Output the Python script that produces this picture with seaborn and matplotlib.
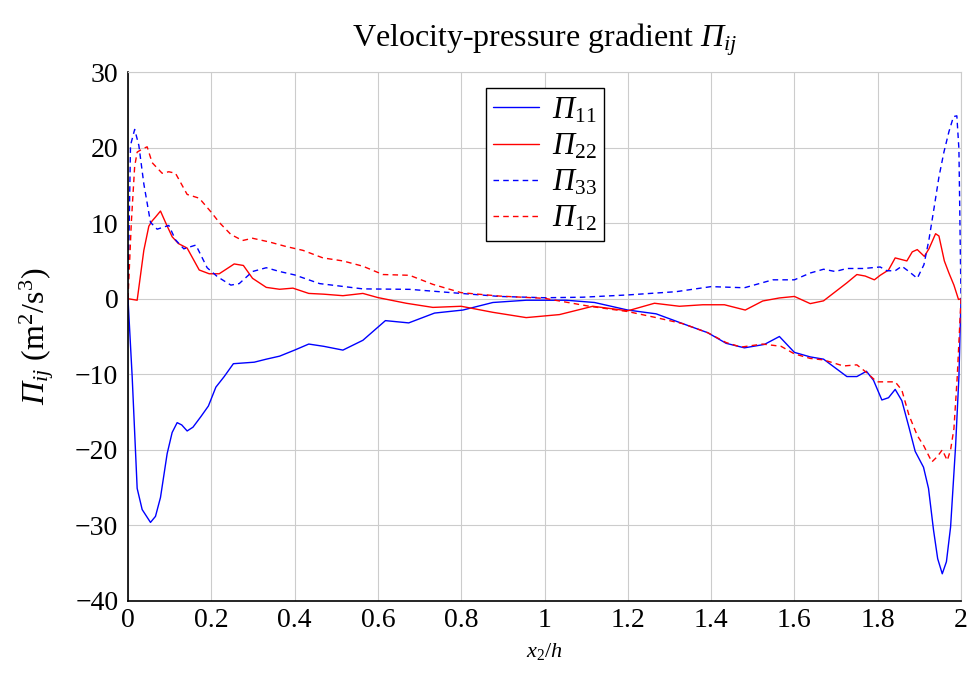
import numpy as np
import pandas as pd
import matplotlib
matplotlib.use("Agg")
import matplotlib.pyplot as plt
import seaborn as sns

# ---- data ----
x11 = [0.0, 0.01, 0.022, 0.034, 0.054, 0.066, 0.078, 0.094, 0.106, 0.118, 0.129, 0.142, 0.156,
       0.175, 0.193, 0.211, 0.231, 0.253, 0.303, 0.332, 0.364, 0.4, 0.434, 0.47, 0.516, 0.564,
       0.618, 0.674, 0.736, 0.804, 0.876, 0.956, 1.052, 1.12, 1.2, 1.268, 1.332, 1.392, 1.436,
       1.48, 1.528, 1.564, 1.6, 1.638, 1.67, 1.726, 1.75, 1.773, 1.79, 1.81, 1.826, 1.842, 1.858,
       1.875, 1.89, 1.91, 1.922, 1.934, 1.944, 1.955, 1.965, 1.975, 1.987, 1.995, 2.0]
p11 = [0.0, -10.3, -25.1, -27.9, -29.6, -28.8, -26.3, -20.5, -17.7, -16.4, -16.7, -17.5, -17.0,
       -15.6, -14.2, -11.7, -10.3, -8.6, -8.4, -8.0, -7.6, -6.8, -6.0, -6.3, -6.8, -5.5,
       -2.9, -3.2, -1.9, -1.5, -0.5, -0.2, -0.2, -0.5, -1.5, -2.0, -3.3, -4.5, -5.9,
       -6.5, -6.05, -5.0, -7.1, -7.7, -8.0, -10.3, -10.3, -9.6, -10.8, -13.4, -13.1, -12.0, -13.5,
       -17.0, -20.2, -22.3, -25.1, -30.6, -34.4, -36.4, -34.8, -30.2, -19.5, -10.3, 0.0]

x22 = [0.0, 0.022, 0.038, 0.05, 0.058, 0.066, 0.078, 0.09, 0.106, 0.121, 0.142, 0.171, 0.195,
       0.219, 0.255, 0.277, 0.299, 0.332, 0.364, 0.396, 0.434, 0.47, 0.516, 0.564, 0.6, 0.668,
       0.732, 0.8, 0.876, 0.956, 1.036, 1.116, 1.2, 1.264, 1.324, 1.38, 1.432, 1.482, 1.524,
       1.564, 1.6, 1.638, 1.67, 1.726, 1.75, 1.77, 1.792, 1.806, 1.826, 1.842, 1.87, 1.883,
       1.895, 1.912, 1.923, 1.939, 1.947, 1.96, 1.971, 1.983, 1.994, 2.0]
p22 = [0.0, -0.2, 6.4, 9.6, 10.3, 10.8, 11.6, 10.1, 8.2, 7.3, 6.7, 3.8, 3.3,
       3.3, 4.6, 4.4, 2.7, 1.5, 1.25, 1.4, 0.7, 0.6, 0.4, 0.7, 0.15, -0.6,
       -1.15, -1.0, -1.8, -2.5, -2.1, -1.0, -1.6, -0.6, -1.0, -0.8, -0.8, -1.5, -0.3,
       0.1, 0.3, -0.65, -0.28, 2.1, 3.2, 3.0, 2.5, 3.1, 3.8, 5.4, 5.0, 6.2,
       6.5, 5.6, 6.6, 8.6, 8.3, 5.0, 3.4, 1.8, -0.1, 0.0]

x33 = [0.0, 0.006, 0.016, 0.026, 0.038, 0.054, 0.07, 0.098, 0.114, 0.134, 0.163, 0.19, 0.215,
       0.247, 0.267, 0.299, 0.332, 0.364, 0.4, 0.46, 0.564, 0.676, 0.8, 0.892, 1.0, 1.092,
       1.2, 1.316, 1.4, 1.48, 1.548, 1.6, 1.638, 1.67, 1.698, 1.726, 1.766, 1.806, 1.822,
       1.842, 1.858, 1.875, 1.895, 1.911, 1.923, 1.935, 1.947, 1.959, 1.971, 1.982, 1.99,
       1.995, 2.0]
p33 = [0.0, 20.3, 22.4, 20.3, 15.2, 10.1, 9.2, 9.7, 7.8, 6.6, 7.1, 4.1, 2.9,
       1.8, 2.0, 3.6, 4.1, 3.6, 3.15, 2.0, 1.3, 1.24, 0.7, 0.3, 0.13, 0.2,
       0.5, 0.93, 1.6, 1.45, 2.5, 2.5, 3.4, 3.9, 3.6, 4.0, 4.0, 4.2, 3.7,
       3.7, 4.3, 3.6, 2.7, 4.5, 7.8, 11.9, 16.1, 19.4, 22.1, 24.1, 24.2,
       19.8, 0.0]

x12 = [0.0, 0.008, 0.016, 0.022, 0.034, 0.046, 0.058, 0.082, 0.098, 0.114, 0.142, 0.171, 0.199,
       0.219, 0.247, 0.275, 0.299, 0.34, 0.38, 0.42, 0.468, 0.516, 0.564, 0.612, 0.676, 0.732,
       0.8, 0.892, 1.0, 1.108, 1.2, 1.268, 1.332, 1.392, 1.436, 1.472, 1.524, 1.568, 1.6,
       1.638, 1.67, 1.718, 1.75, 1.774, 1.798, 1.842, 1.858, 1.875, 1.895, 1.911, 1.93, 1.943,
       1.955, 1.967, 1.975, 1.983, 1.991, 2.0]
p12 = [0.0, 10.1, 17.5, 19.4, 19.8, 20.1, 18.0, 16.6, 16.8, 16.6, 13.8, 13.3, 11.5,
       10.1, 8.5, 7.7, 8.0, 7.5, 6.9, 6.4, 5.4, 5.0, 4.3, 3.2, 3.1, 1.9,
       0.8, 0.35, 0.05, -1.0, -1.7, -2.5, -3.3, -4.5, -5.8, -6.4, -6.0, -6.3, -7.3,
       -7.9, -8.1, -8.9, -8.75, -9.8, -11.0, -11.0, -12.1, -15.4, -18.1, -19.5, -21.6, -20.9,
       -20.0, -21.4, -20.0, -17.2, -10.3, 0.0]

x_ticks = [0, 0.2, 0.4, 0.6, 0.8, 1.0, 1.2, 1.4, 1.6, 1.8, 2.0]
x_tick_labels = ["0", "0.2", "0.4", "0.6", "0.8", "1", "1.2", "1.4", "1.6", "1.8", "2"]
y_ticks = [-40, -30, -20, -10, 0, 10, 20, 30]
y_tick_labels = ["\u221240", "\u221230", "\u221220", "\u221210", "0", "10", "20", "30"]

# ---- plot ----
sns.set_theme(style="white")
plt.rcParams["font.family"] = ["Liberation Serif", "DejaVu Serif"]
plt.rcParams["mathtext.fontset"] = "custom"
plt.rcParams["mathtext.rm"] = "Liberation Serif"
plt.rcParams["mathtext.it"] = "Liberation Serif:italic"
plt.rcParams["mathtext.sf"] = "Liberation Serif:italic"
plt.rcParams["mathtext.bf"] = "Liberation Serif:bold"
for k in ["text.color", "axes.labelcolor", "xtick.color", "ytick.color"]:
    plt.rcParams[k] = "black"

PI = r"\mathsf{\Pi}"

fig = plt.figure(figsize=(9.71, 6.77), dpi=100)
ax = fig.add_axes([128 / 971, 1 - 601 / 677, (961 - 128) / 971, (601 - 72) / 677])

series = [
    (x11, p11, rf"${PI}_{{11}}$", (0, 0, 1), "-"),
    (x22, p22, rf"${PI}_{{22}}$", (1, 0, 0), "-"),
    (x33, p33, rf"${PI}_{{33}}$", (0, 0, 1), "--"),
    (x12, p12, rf"${PI}_{{12}}$", (1, 0, 0), "--"),
]
for xs, ys, lab, col, ls in series:
    df = pd.DataFrame({"x": xs, "y": ys})
    sns.lineplot(data=df, x="x", y="y", ax=ax, color=col, linewidth=1.0,
                 label=lab, estimator=None, sort=False)
    l = ax.get_lines()[-1]
    if ls == "--":
        l.set_dashes([4, 3])

ax.set_xlim(0, 2)
ax.set_ylim(-40, 30)
ax.set_xticks(x_ticks)
ax.set_xticklabels(x_tick_labels)
ax.set_yticks(y_ticks)
ax.set_yticklabels(y_tick_labels)
ax.tick_params(axis="both", labelsize=20, direction="in", length=3, color="#999999")
ax.tick_params(axis="y", pad=7)
ax.tick_params(axis="x", pad=5)
ax.grid(True, color="#cccccc", linewidth=0.8)
ax.set_axisbelow(True)

for s in ["top", "right"]:
    ax.spines[s].set_color("#cccccc")
    ax.spines[s].set_linewidth(0.8)
for s in ["left", "bottom"]:
    ax.spines[s].set_color("black")
    ax.spines[s].set_linewidth(1.2)

ax.set_xlabel(r"$x_2/h$", fontsize=16, labelpad=6)
ax.set_ylabel(rf"${PI}_{{ij}}$ (m$^2$/s$^3$)", fontsize=23, labelpad=14)
ax.set_title(rf"Velocity-pressure gradient ${PI}_{{ij}}$", fontsize=23, pad=18)

leg = ax.legend(loc="upper center", bbox_to_anchor=(0.5006, 0.97), fontsize=22,
                frameon=True, fancybox=False, edgecolor="black", framealpha=1,
                handlelength=1.5, labelspacing=0.22, borderpad=0.25,
                handletextpad=0.4, borderaxespad=0)
leg.get_frame().set_linewidth(1.0)

fig.savefig("out.png", dpi=100)
